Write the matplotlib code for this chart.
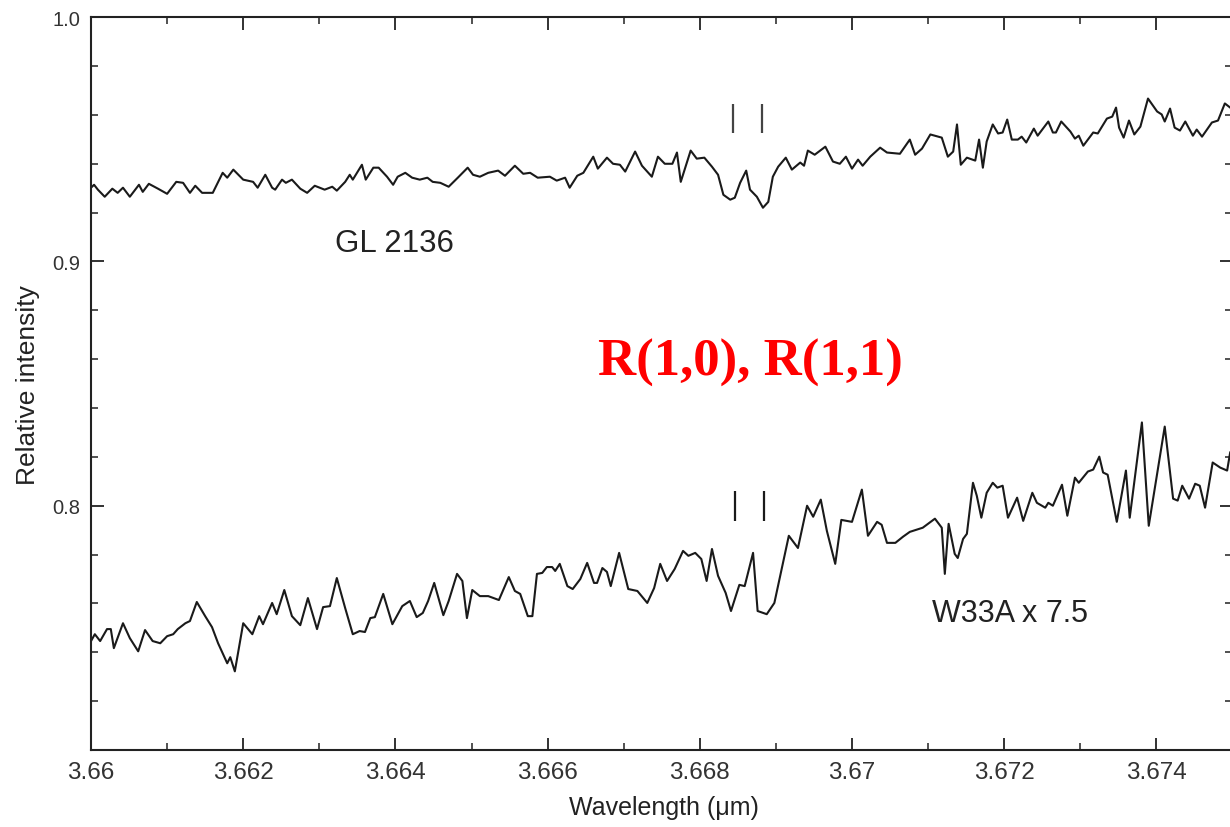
import numpy as np
import matplotlib
matplotlib.use("Agg")
import matplotlib.pyplot as plt
from matplotlib.ticker import MultipleLocator, FixedLocator, FuncFormatter

plt.rcParams['font.family'] = ['Liberation Sans', 'DejaVu Sans']

# GL 2136 spectrum (wavelength in um, relative intensity)
gl_wl = [3.66000, 3.66004, 3.66009, 3.66018, 3.66028, 3.66035, 3.66042, 3.66051, 3.66063, 3.66068,
         3.66076, 3.66088, 3.66100, 3.66112, 3.66121, 3.66130, 3.66137, 3.66146, 3.66160, 3.66173,
         3.66179, 3.66187, 3.66200, 3.66213, 3.66219, 3.66229, 3.66238, 3.66242, 3.66251, 3.66256,
         3.66264, 3.66275, 3.66284, 3.66294, 3.66307, 3.66317, 3.66323, 3.66334, 3.66340, 3.66344,
         3.66356, 3.66361, 3.66371, 3.66378, 3.66389, 3.66397, 3.66403, 3.66413, 3.66422, 3.66432,
         3.66442, 3.66449, 3.66459, 3.66470, 3.66482, 3.66495, 3.66502, 3.66511, 3.66522, 3.66535,
         3.66544, 3.66557, 3.66568, 3.66577, 3.66587, 3.66603, 3.66612, 3.66623, 3.66629, 3.66639,
         3.66647, 3.66660, 3.66666, 3.66678, 3.66686, 3.66695, 3.66702, 3.66715, 3.66724, 3.66737,
         3.66745, 3.66754, 3.66764, 3.66770, 3.66775, 3.66788, 3.66796, 3.66806, 3.66816, 3.66824,
         3.66831, 3.66840, 3.66846, 3.66853, 3.66861, 3.66866, 3.66875, 3.66883, 3.66890, 3.66896,
         3.66903, 3.66913, 3.66921, 3.66932, 3.66937, 3.66942, 3.66951, 3.66965, 3.66975, 3.66984,
         3.66992, 3.67000, 3.67008, 3.67014, 3.67024, 3.67037, 3.67046, 3.67063, 3.67076, 3.67083,
         3.67092, 3.67103, 3.67118, 3.67126, 3.67133, 3.67138, 3.67143, 3.67151, 3.67162, 3.67167,
         3.67172, 3.67177, 3.67185, 3.67192, 3.67198, 3.67204, 3.67210, 3.67218, 3.67223, 3.67229,
         3.67239, 3.67244, 3.67258, 3.67264, 3.67268, 3.67275, 3.67287, 3.67293, 3.67298, 3.67304,
         3.67317, 3.67323, 3.67335, 3.67342, 3.67347, 3.67351, 3.67357, 3.67364, 3.67371, 3.67379,
         3.67389, 3.67401, 3.67407, 3.67411, 3.67418, 3.67424, 3.67431, 3.67438, 3.67448, 3.67453,
         3.67460, 3.67473, 3.67481, 3.67490, 3.67497]
gl_int = [0.9302, 0.9314, 0.9294, 0.9265, 0.9298, 0.9281, 0.9302, 0.9265, 0.9314, 0.9285,
          0.9318, 0.9298, 0.9277, 0.9326, 0.9322, 0.9281, 0.9310, 0.9281, 0.9281, 0.9363,
          0.9343, 0.9376, 0.9335, 0.9326, 0.9302, 0.9355, 0.9302, 0.9294, 0.9335, 0.9322,
          0.9335, 0.9298, 0.9281, 0.9310, 0.9294, 0.9306, 0.9290, 0.9326, 0.9355, 0.9335,
          0.9396, 0.9335, 0.9384, 0.9384, 0.9347, 0.9314, 0.9347, 0.9363, 0.9343, 0.9335,
          0.9343, 0.9326, 0.9322, 0.9306, 0.9343, 0.9384, 0.9355, 0.9347, 0.9363, 0.9372,
          0.9351, 0.9392, 0.9359, 0.9363, 0.9343, 0.9347, 0.9331, 0.9343, 0.9302, 0.9351,
          0.9363, 0.9429, 0.9380, 0.9425, 0.9400, 0.9396, 0.9368, 0.9450, 0.9392, 0.9347,
          0.9429, 0.9400, 0.9400, 0.9446, 0.9326, 0.9454, 0.9421, 0.9425, 0.9388, 0.9355,
          0.9273, 0.9253, 0.9261, 0.9322, 0.9372, 0.9294, 0.9265, 0.9220, 0.9244, 0.9347,
          0.9388, 0.9425, 0.9376, 0.9405, 0.9392, 0.9454, 0.9437, 0.9470, 0.9409, 0.9400,
          0.9429, 0.9380, 0.9417, 0.9392, 0.9429, 0.9466, 0.9446, 0.9441, 0.9499, 0.9437,
          0.9462, 0.9520, 0.9507, 0.9429, 0.9450, 0.9561, 0.9396, 0.9425, 0.9413, 0.9499,
          0.9384, 0.9491, 0.9561, 0.9524, 0.9528, 0.9581, 0.9499, 0.9499, 0.9511, 0.9487,
          0.9544, 0.9515, 0.9573, 0.9528, 0.9528, 0.9573, 0.9532, 0.9503, 0.9515, 0.9474,
          0.9528, 0.9524, 0.9585, 0.9593, 0.9630, 0.9548, 0.9507, 0.9577, 0.9520, 0.9552,
          0.9667, 0.9614, 0.9602, 0.9573, 0.9626, 0.9548, 0.9536, 0.9573, 0.9515, 0.9540,
          0.9511, 0.9569, 0.9577, 0.9647, 0.9630]

# W33A spectrum (x 7.5)
w33_wl = [3.66000, 3.66005, 3.66012, 3.66021, 3.66026, 3.66030, 3.66042, 3.66051, 3.66062, 3.66071,
          3.66081, 3.66091, 3.66100, 3.66108, 3.66114, 3.66124, 3.66130, 3.66139, 3.66150, 3.66159,
          3.66167, 3.66179, 3.66183, 3.66189, 3.66200, 3.66212, 3.66221, 3.66226, 3.66238, 3.66244,
          3.66254, 3.66264, 3.66275, 3.66285, 3.66297, 3.66305, 3.66314, 3.66323, 3.66334, 3.66344,
          3.66353, 3.66360, 3.66367, 3.66373, 3.66384, 3.66396, 3.66409, 3.66419, 3.66428, 3.66436,
          3.66443, 3.66451, 3.66463, 3.66470, 3.66481, 3.66488, 3.66494, 3.66501, 3.66511, 3.66522,
          3.66536, 3.66549, 3.66557, 3.66564, 3.66574, 3.66580, 3.66586, 3.66593, 3.66599, 3.66606,
          3.66610, 3.66616, 3.66626, 3.66633, 3.66643, 3.66652, 3.66661, 3.66665, 3.66672, 3.66678,
          3.66683, 3.66694, 3.66706, 3.66718, 3.66731, 3.66740, 3.66748, 3.66757, 3.66767, 3.66778,
          3.66785, 3.66794, 3.66802, 3.66809, 3.66816, 3.66824, 3.66834, 3.66841, 3.66852, 3.66859,
          3.66870, 3.66876, 3.66888, 3.66898, 3.66905, 3.66917, 3.66929, 3.66941, 3.66949, 3.66959,
          3.66967, 3.66978, 3.66986, 3.67000, 3.67013, 3.67021, 3.67033, 3.67039, 3.67046, 3.67057,
          3.67067, 3.67076, 3.67093, 3.67109, 3.67118, 3.67122, 3.67127, 3.67135, 3.67139, 3.67146,
          3.67151, 3.67159, 3.67164, 3.67170, 3.67177, 3.67185, 3.67191, 3.67198, 3.67205, 3.67217,
          3.67225, 3.67237, 3.67243, 3.67254, 3.67258, 3.67264, 3.67276, 3.67283, 3.67293, 3.67298,
          3.67310, 3.67317, 3.67325, 3.67330, 3.67336, 3.67348, 3.67360, 3.67365, 3.67381, 3.67390,
          3.67411, 3.67422, 3.67428, 3.67434, 3.67443, 3.67451, 3.67457, 3.67464, 3.67474, 3.67484,
          3.67493, 3.67497]
w33_int = [0.7446, 0.7474, 0.7446, 0.7495, 0.7495, 0.7417, 0.7519, 0.7458, 0.7404, 0.7491,
           0.7446, 0.7437, 0.7466, 0.7474, 0.7495, 0.7519, 0.7528, 0.7606, 0.7548, 0.7503,
           0.7437, 0.7355, 0.7380, 0.7322, 0.7519, 0.7474, 0.7548, 0.7515, 0.7602, 0.7556,
           0.7655, 0.7548, 0.7511, 0.7622, 0.7495, 0.7585, 0.7589, 0.7704, 0.7581, 0.7474,
           0.7487, 0.7483, 0.7540, 0.7544, 0.7639, 0.7515, 0.7589, 0.7610, 0.7544, 0.7561,
           0.7610, 0.7684, 0.7552, 0.7610, 0.7721, 0.7692, 0.7540, 0.7655, 0.7630, 0.7630,
           0.7614, 0.7708, 0.7651, 0.7639, 0.7548, 0.7548, 0.7721, 0.7725, 0.7749, 0.7749,
           0.7733, 0.7762, 0.7671, 0.7659, 0.7700, 0.7766, 0.7684, 0.7684, 0.7745, 0.7729,
           0.7671, 0.7807, 0.7659, 0.7651, 0.7602, 0.7663, 0.7762, 0.7692, 0.7741, 0.7815,
           0.7795, 0.7807, 0.7782, 0.7692, 0.7823, 0.7713, 0.7643, 0.7569, 0.7676, 0.7671,
           0.7807, 0.7569, 0.7556, 0.7602, 0.7704, 0.7877, 0.7827, 0.8000, 0.7955, 0.8025,
           0.7897, 0.7762, 0.7942, 0.7934, 0.8066, 0.7877, 0.7934, 0.7922, 0.7848, 0.7848,
           0.7873, 0.7893, 0.7910, 0.7947, 0.7910, 0.7721, 0.7926, 0.7803, 0.7786, 0.7864,
           0.7885, 0.8094, 0.8041, 0.7951, 0.8053, 0.8094, 0.8074, 0.8082, 0.7951, 0.8033,
           0.7938, 0.8053, 0.8012, 0.7992, 0.8012, 0.8000, 0.8086, 0.7959, 0.8115, 0.8094,
           0.8140, 0.8148, 0.8201, 0.8136, 0.8127, 0.7934, 0.8144, 0.7951, 0.8341, 0.7918,
           0.8324, 0.8029, 0.8021, 0.8082, 0.8029, 0.8090, 0.8082, 0.7992, 0.8177, 0.8156,
           0.8144, 0.8218]

# R(1,0), R(1,1) line positions and marker spans
gl_marks = [3.66844, 3.66882]
gl_mark_span = (0.9528, 0.9643)
w33_marks = [3.66846, 3.66884]
w33_mark_span = (0.7938, 0.8062)

fig = plt.figure(figsize=(12.3, 8.28), dpi=100)
ax = fig.add_axes([0.074, 0.093, 0.928, 0.885])

ink = '#1a1a1a'
ax.plot(gl_wl, gl_int, color=ink, lw=1.5)
ax.plot(w33_wl, w33_int, color=ink, lw=1.5)

ax.vlines(gl_marks, *gl_mark_span, color='#444444', lw=1.6)
ax.vlines(w33_marks, *w33_mark_span, color=ink, lw=1.6)

ax.text(3.66321, 0.9075, 'GL 2136', fontsize=22.5, color='#222222', va='center', ha='left')
ax.text(3.67105, 0.7561, 'W33A x 7.5', fontsize=22, color='#222222', va='center', ha='left')
ax.text(3.66867, 0.8590, 'R(1,0), R(1,1)', fontsize=38, color='#ff0000', fontweight='bold',
        family=['Liberation Serif', 'DejaVu Serif'], ha='center', va='center')

ax.set_xlim(3.66, 3.675)
ax.set_ylim(0.7, 1.0)

ax.xaxis.set_major_locator(MultipleLocator(0.002))
ax.xaxis.set_minor_locator(MultipleLocator(0.001))
ax.xaxis.set_major_formatter(FuncFormatter(lambda v, p: '%g' % round(v, 4)))
ax.yaxis.set_major_locator(FixedLocator([0.8, 0.9, 1.0]))
ax.yaxis.set_minor_locator(MultipleLocator(0.02))
ax.yaxis.set_major_formatter(FuncFormatter(lambda v, p: '%.1f' % v))

ax.tick_params(which='both', direction='in', top=True, right=True, color='#222222',
               labelcolor='#333333')
ax.tick_params(which='major', length=9, width=1.3, pad=8)
ax.tick_params(which='minor', length=5, width=1.1)
ax.tick_params(axis='x', labelsize=17.5)
ax.tick_params(axis='y', labelsize=14.5)
for s in ax.spines.values():
    s.set_linewidth(1.5)
    s.set_color('#222222')

ax.set_xlabel('Wavelength (\u03bcm)', fontsize=18, color='#222222')
ax.set_ylabel('Relative intensity', fontsize=19, color='#222222')
ax.xaxis.set_label_coords(0.502, -0.061)
ax.yaxis.set_label_coords(-0.045, 0.5)

fig.savefig('out.png', dpi=100)
